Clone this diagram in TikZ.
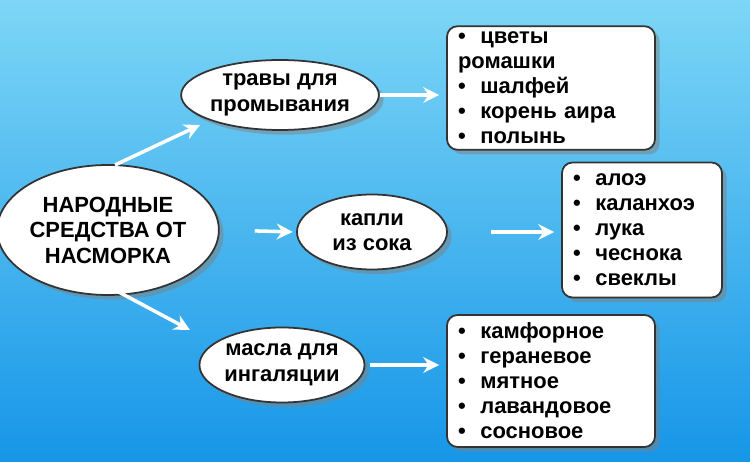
\documentclass[tikz,border=0pt]{standalone}
\usepackage{fontspec}
\setmainfont{Liberation Sans}
\usetikzlibrary{shapes.geometric,arrows.meta,shadows}

\begin{document}
\begin{tikzpicture}[font=\bfseries\fontsize{12.5}{14.5}\selectfont]
  \tikzstyle{oval}=[draw=black!80,line width=1pt,ellipse,fill=white,inner sep=0pt,
                     align=center,drop shadow={opacity=.5}]
  \tikzstyle{list}=[draw=black!80,line width=1pt,rounded corners=6pt,fill=white,
                     align=left,anchor=center,inner xsep=0.22cm,drop shadow={opacity=.5},
                     font=\bfseries\fontsize{12.5}{14.2}\selectfont]
  \tikzstyle{link}=[draw=white,line width=2pt,-{Stealth[length=9pt,width=9pt]}]
  \shade[top color={rgb,255:red,125;green,214;blue,246},bottom color={rgb,255:red,22;green,150;blue,232}]
    (0,0) rectangle (15,9.24);
  \useasboundingbox (0,0) rectangle (15,9.24);
  \node[oval,minimum width=3.8cm,minimum height=2.6cm] (main) at (2.16,4.64)
    {НАРОДНЫЕ\\СРЕДСТВА ОТ\\НАСМОРКА};
  \node[oval,minimum width=3.6cm,minimum height=1.4cm] (herbs) at (5.6,7.34)
    {травы для\\промывания};
  \node[oval,minimum width=3.0cm,minimum height=1.5cm] (drops) at (7.44,4.6)
    {капли\\из сока};
  \node[oval,minimum width=3.3cm,minimum height=1.5cm] (oils) at (5.64,1.94)
    {масла для\\ингаляции};
  \node[list,text width=3.72cm,minimum height=2.4cm] (herblist) at (11.02,7.48)
    {\textbullet\ \ цветы ромашки\\\textbullet\ \ шалфей\\\textbullet\ \ корень аира\\\textbullet\ \ полынь};
  \node[list,text width=2.76cm,minimum height=2.7cm] (droplist) at (12.84,4.64)
    {\textbullet\ \ алоэ\\\textbullet\ \ каланхоэ\\\textbullet\ \ лука\\\textbullet\ \ чеснока\\\textbullet\ \ свеклы};
  \node[list,text width=3.72cm,minimum height=2.64cm] (oillist) at (11.02,1.62)
    {\textbullet\ \ камфорное\\\textbullet\ \ гераневое\\\textbullet\ \ мятное\\\textbullet\ \ лавандовое\\\textbullet\ \ сосновое};
  % arrow ends
  \coordinate (up from) at (2.3,5.94);
  \coordinate (up to) at (4.0,6.74);
  \coordinate (down from) at (2.3,3.44);
  \coordinate (down to) at (3.8,2.64);
  \draw[link] (up from) -- (up to);
  \draw[link,shorten <=0.7cm,shorten >=2pt] (main.east) -- (drops.west);
  \draw[link] (down from) -- (down to);
  \draw[link,shorten <=0cm,shorten >=4pt] (herbs.east) -- (herbs.east -| herblist.west);
  \draw[link,shorten <=0.86cm,shorten >=4pt] (drops.east) -- (drops.east -| droplist.west);
  \draw[link,shorten <=0.1cm,shorten >=4pt] (oils.east) -- (oils.east -| oillist.west);
\end{tikzpicture}
\end{document}
